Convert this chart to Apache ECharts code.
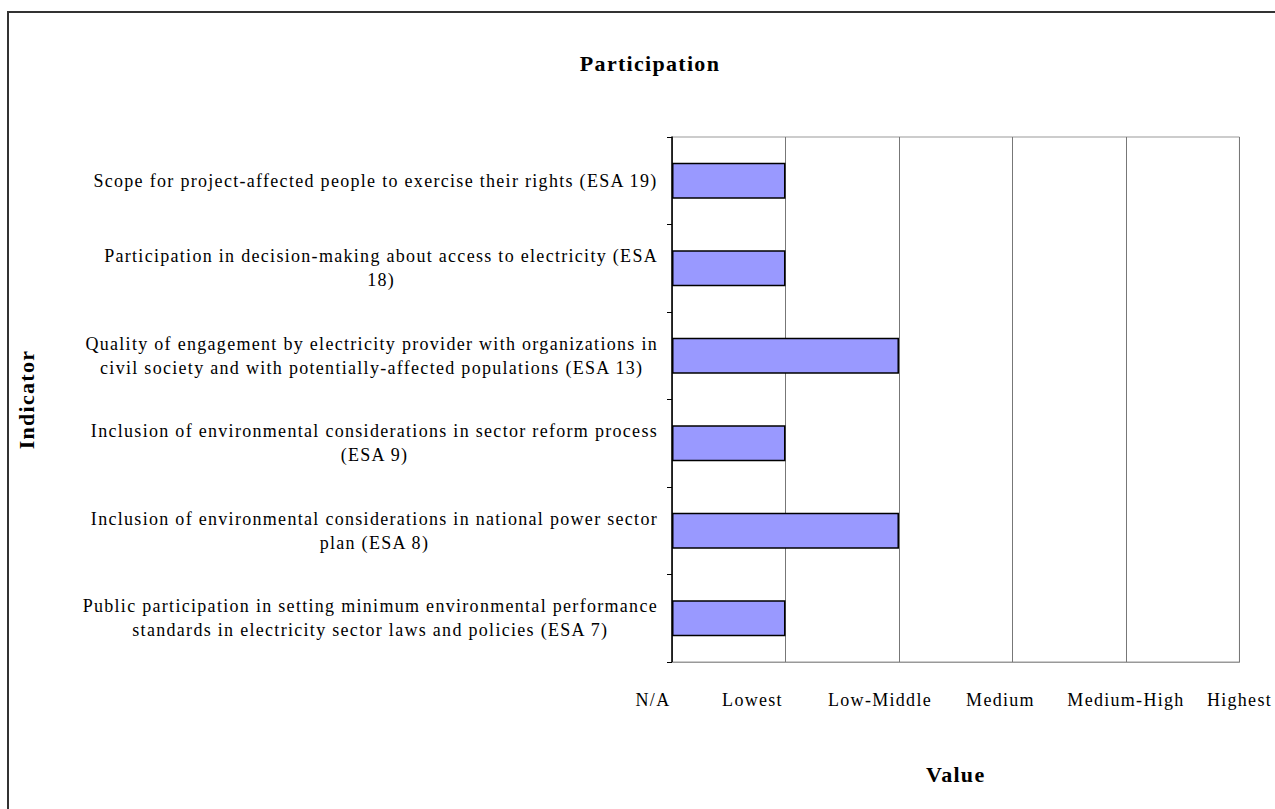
<!DOCTYPE html>
<html>
<head>
<meta charset="utf-8">
<script src="https://cdn.jsdelivr.net/npm/echarts@6/dist/echarts.min.js"></script>
<style>
  html, body { margin: 0; padding: 0; background: #fff; }
  #chart { width: 1275px; height: 809px; }
  /* the original text is set a little looser than the font's own spacing */
  #chart text { letter-spacing: 1.3px; }
</style>
</head>
<body>
<div id="chart"></div>
<script>
// indicators, top to bottom as in the picture
const categories = [
    'Scope for project-affected people to exercise their rights (ESA 19)',
    'Participation in decision-making about access to electricity (ESA\n18)',
    'Quality of engagement by electricity provider with organizations in\ncivil society and with potentially-affected populations (ESA 13)',
    'Inclusion of environmental considerations in sector reform process\n(ESA 9)',
    'Inclusion of environmental considerations in national power sector\nplan (ESA 8)',
    'Public participation in setting minimum environmental performance\nstandards in electricity sector laws and policies (ESA 7)'
];
const values = [1, 1, 2, 1, 2, 1];
const levelLabels = ['N/A', 'Lowest', 'Low-Middle', 'Medium', 'Medium-High', 'Highest'];

// measure text with the same letter spacing as the css rule above,
// so right/centre alignment still lines up
const measureCtx = document.createElement('canvas').getContext('2d');
measureCtx.letterSpacing = '1.3px';
echarts.setPlatformAPI({
    measureText: (text, font) => {
        measureCtx.font = font || '12px sans-serif';
        return measureCtx.measureText(text);
    }
});

const font = '"Liberation Serif", "Times New Roman", serif';
const chart = echarts.init(document.getElementById('chart'), null, { renderer: 'svg' });

// how far (px) each level label sits left of its gridline in the original
const shift = [19, 33, 19, 12, 0, 0];

chart.setOption({
    backgroundColor: '#fff',
    animation: false,
    title: {
        text: 'Participation',
        left: 645,
        textAlign: 'center',
        top: 47,
        textStyle: { fontFamily: font, fontSize: 22, fontWeight: 'bold', color: '#000' }
    },
    grid: {
        left: 672,
        right: 34,
        top: 137,
        bottom: 147,
        show: true,
        borderColor: '#999',
        borderWidth: 1
    },
    xAxis: {
        type: 'value',
        min: 0,
        max: 5,
        interval: 1,
        name: 'Value',
        nameLocation: 'middle',
        nameGap: 101,
        nameTextStyle: { fontFamily: font, fontSize: 22, fontWeight: 'bold', color: '#000' },
        axisLine: { show: true, lineStyle: { color: '#999', width: 1 } },
        axisTick: { show: false },
        splitLine: { show: true, lineStyle: { color: '#777', width: 1 } },
        axisLabel: {
            margin: 28,
            formatter: (v) => {
                const i = Math.round(v);
                return '{l' + i + '|' + levelLabels[i] + '}';
            },
            rich: Object.fromEntries(shift.map((s, i) => [
                'l' + i,
                { fontFamily: font, fontSize: 18, color: '#000', padding: [0, s * 2, 0, 0] }
            ]))
        }
    },
    yAxis: {
        type: 'category',
        data: categories,
        inverse: true,
        name: 'Indicator',
        nameLocation: 'middle',
        nameRotate: 90,
        nameGap: 634,
        nameTextStyle: { fontFamily: font, fontSize: 22, fontWeight: 'bold', color: '#000' },
        axisLine: { show: true, lineStyle: { color: '#000', width: 1.5 } },
        axisTick: { show: true, length: 5, lineStyle: { color: '#000' } },
        axisLabel: {
            margin: 14,
            formatter: (v) => v.split('\n').map(s => '{c|' + s + '}').join('\n'),
            rich: {
                c: { fontFamily: font, fontSize: 18, color: '#000', align: 'center', lineHeight: 24 }
            }
        }
    },
    series: [{
        type: 'bar',
        data: values,
        barWidth: 36,
        itemStyle: { color: '#9999ff', borderColor: '#000', borderWidth: 1.5 }
    }],
    graphic: [{
        type: 'rect',
        shape: { x: 8, y: 12, width: 1300, height: 900 },
        style: { fill: null, stroke: '#333', lineWidth: 2 },
        silent: true
    }]
});
</script>
</body>
</html>
